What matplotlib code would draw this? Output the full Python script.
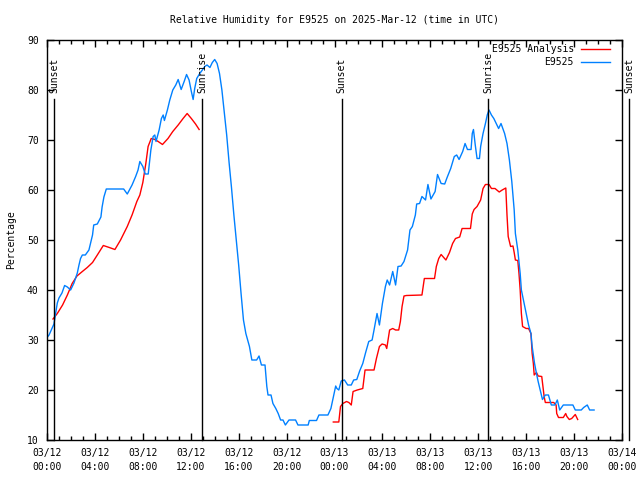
import numpy as np
import matplotlib
matplotlib.use("Agg")
import matplotlib.pyplot as plt
import matplotlib.dates as mdates
from datetime import datetime, timedelta

plt.rcParams['font.family'] = 'DejaVu Sans Mono'
plt.rcParams['font.size'] = 7

start = datetime(2025, 3, 12)

# observed RH (E9525), hours after 03/12 00:00 UTC
obs_hours = [0.0, 0.17, 0.58, 0.86, 1.0, 1.25, 1.47, 1.7, 1.97, 2.25,
             2.53, 2.67, 2.8, 2.95, 3.2, 3.5, 3.6, 3.8, 3.9, 4.2,
             4.5, 4.6, 4.75, 4.95, 6.4, 6.7, 7.1, 7.4, 7.6, 7.75,
             8.0, 8.2, 8.45, 8.67, 8.86, 9.0, 9.1, 9.36, 9.55, 9.7,
             9.8, 10.05, 10.25, 10.5, 10.75, 10.95, 11.2, 11.45, 11.65, 11.86,
             12.05, 12.2, 12.33, 12.5, 12.75, 12.97, 13.17, 13.36, 13.6, 13.8,
             14.0, 14.2, 14.4, 14.6, 14.8, 15.0, 15.2, 15.4, 15.6, 15.8,
             16.0, 16.2, 16.4, 16.6, 16.9, 17.1, 17.5, 17.7, 17.9, 18.2,
             18.35, 18.45, 18.7, 18.86, 19.1, 19.3, 19.5, 19.7, 19.9, 20.2,
             20.75, 20.95, 21.8, 21.9, 22.5, 22.7, 23.45, 23.7, 23.9, 24.1,
             24.2, 24.36, 24.56, 24.83, 25.1, 25.4, 25.6, 25.86, 26.1, 26.36,
             26.6, 26.86, 27.14, 27.3, 27.55, 27.75, 28.0, 28.25, 28.4, 28.6,
             28.86, 29.1, 29.3, 29.56, 29.8, 30.1, 30.3, 30.5, 30.75, 30.86,
             31.1, 31.3, 31.6, 31.8, 32.05, 32.4, 32.6, 32.9, 33.2, 33.4,
             33.7, 34.0, 34.2, 34.4, 34.7, 34.9, 35.1, 35.4, 35.5, 35.6,
             35.75, 35.9, 36.1, 36.2, 36.4, 36.6, 36.75, 36.9, 37.1, 37.3,
             37.5, 37.7, 37.9, 38.2, 38.4, 38.6, 38.8, 39.0, 39.1, 39.3,
             39.5, 39.6, 39.83, 40.0, 40.2, 40.4, 40.5, 40.7, 40.86, 41.0,
             41.2, 41.36, 41.6, 41.86, 42.1, 42.4, 42.6, 42.8, 43.1, 43.9,
             44.1, 44.6, 44.8, 45.1, 45.3, 45.67]
obs_rh = [30.5, 31, 33.2, 37.4, 38.4, 39.4, 40.9, 40.6, 40, 41.4,
          43.4, 45, 46.3, 47, 47, 48, 49, 51, 53, 53.2,
          54.6, 56.6, 58.6, 60.2, 60.2, 59.2, 61, 62.7, 64, 65.7,
          64.7, 63.2, 63.2, 68, 70.7, 71, 69.7, 72, 74.3, 75,
          73.9, 76, 78, 80, 81, 82.1, 80.1, 81.7, 83.1, 82,
          79.7, 78.1, 80.3, 82.3, 83.3, 84, 84.7, 85, 84.5, 85.5,
          86.1, 85.3, 83.3, 80, 75.5, 71, 65.5, 60.5, 55, 50,
          45, 39.3, 34, 31.3, 28.7, 26, 26, 26.8, 25, 25,
          20.7, 19, 19, 17.3, 16.3, 15.3, 14, 14, 13, 14,
          14, 13, 13, 13.9, 13.9, 15, 15, 16.3, 18.5, 20.8,
          20.3, 20, 21.8, 22, 21, 21, 22, 22.1, 23.8, 25.3,
          27.5, 29.7, 30, 32, 35.3, 33, 37.3, 40.7, 42, 41,
          43.7, 41, 44.7, 44.8, 45.7, 48, 52, 52.7, 55, 57.2,
          57.3, 58.7, 58, 61.1, 58.2, 59.7, 63.1, 61.3, 61.2, 62.5,
          64.3, 66.7, 67, 66.1, 67.7, 69.3, 68.1, 68.1, 71.3, 72.1,
          69, 66.3, 66.3, 68.7, 71.3, 73.3, 75, 76, 75, 74.3,
          73.3, 72.3, 73.3, 71.3, 69.3, 66, 61.7, 56, 51.3, 48,
          43.3, 40, 37.3, 35.3, 33, 31.3, 28.7, 25.3, 23.3, 21.7,
          19.7, 18.1, 19, 19, 17, 17, 18, 16, 17, 17,
          16, 16, 16.5, 17, 16, 16]

# analysis RH (E9525 Analysis); nan marks the gap in the record
ana_hours = [0.5, 0.86, 1.3, 1.7, 2.1, 2.5, 2.95, 3.36, 3.8, 4.2,
             4.7, 5.2, 5.67, 6.14, 6.7, 7.1, 7.5, 7.75, 8.0, 8.25,
             8.44, 8.7, 9.0, 9.28, 9.64, 10.1, 10.5, 10.95, 11.36, 11.7,
             12.05, 12.4, 12.7, 18.0,
             23.9, 24.36, 24.5, 24.7, 25.0, 25.2, 25.4, 25.55, 25.9, 26.36,
             26.55, 27.3, 27.5, 27.75, 27.97, 28.25, 28.36, 28.6, 28.86, 29.1,
             29.36, 29.5, 29.64, 29.8, 30.0, 31.3, 31.5, 32.35, 32.5, 32.7,
             32.9, 33.3, 33.6, 33.86, 34.1, 34.45, 34.65, 35.35, 35.5, 35.65,
             35.9, 36.2, 36.4, 36.6, 36.9, 37.1, 37.4, 37.75, 38.0, 38.3,
             38.4, 38.5, 38.7, 38.9, 39.0, 39.1, 39.3, 39.4, 39.5, 39.6,
             39.7, 40.0, 40.2, 40.4, 40.5, 40.6, 40.67, 40.86, 41.0, 41.3,
             41.4, 41.5, 41.6, 42.3, 42.5, 42.55, 42.7, 43.1, 43.3, 43.4,
             43.6, 43.8, 44.1, 44.3]
ana_rh = [34.2, 35.3, 37, 39, 41.3, 42.8, 43.7, 44.5, 45.5, 47,
          48.9, 48.5, 48.1, 50, 52.7, 55, 57.7, 59, 61.5, 65.3,
          68.7, 70.3, 70.1, 69.7, 69.1, 70.3, 71.7, 73, 74.3, 75.3,
          74.3, 73.2, 72.1, np.nan,
          13.6, 13.6, 16.7, 17.3, 17.7, 17.5, 17, 19.7, 20, 20.3,
          24, 24, 26.3, 28.7, 29.2, 29, 28.3, 32, 32.3, 32,
          32, 33.7, 36.7, 38.8, 38.9, 39, 42.3, 42.3, 44.7, 46.3,
          47.1, 46, 47.5, 49.3, 50.3, 50.6, 52.3, 52.3, 55.2, 56.1,
          56.7, 58, 60.3, 61.1, 61.1, 60.3, 60.3, 59.6, 60, 60.4,
          55, 50.7, 48.7, 48.8, 47.5, 46, 45.9, 43.3, 40, 35.3,
          32.7, 32.3, 32.3, 31.3, 27.3, 25.3, 23, 23.5, 22.8, 22.7,
          20.7, 18.7, 17.5, 17.5, 17, 15.3, 14.5, 14.5, 15.3, 14.7,
          14.1, 14.3, 15.1, 14.1]

sun_hours = [0.62, 12.95, 24.6, 36.85, 48.58]
sun_labels = ['Sunset', 'Sunrise', 'Sunset', 'Sunrise', 'Sunset']

obs_t = [start + timedelta(hours=h) for h in obs_hours]
ana_t = [start + timedelta(hours=h) for h in ana_hours]
sun_t = [start + timedelta(hours=h) for h in sun_hours]

fig = plt.figure(figsize=(6.4, 4.8), dpi=100)
ax = fig.add_axes([47 / 640, 40 / 480, 575 / 640, 400 / 480])

ax.plot(ana_t, ana_rh, color='#ff0000', lw=1, label='E9525 Analysis')
ax.plot(obs_t, obs_rh, color='#0080ff', lw=1, label='E9525')

for t, lab in zip(sun_t, sun_labels):
    ax.plot([t, t], [10, 78.2], color='black', lw=1, clip_on=False)
    ax.text(t, 79.4, lab, rotation=90, ha='center', va='bottom', clip_on=False)

ax.set_xlim(start, start + timedelta(hours=48))
ax.set_ylim(10, 90)
ax.set_yticks(np.arange(10, 91, 10))
ax.xaxis.set_major_locator(mdates.HourLocator(byhour=range(0, 24, 4)))
ax.xaxis.set_minor_locator(mdates.HourLocator())
ax.xaxis.set_major_formatter(mdates.DateFormatter('%m/%d\n%H:%M'))
for lbl in ax.get_xticklabels():
    lbl.set_linespacing(1.45)

ax.tick_params(which='both', direction='in', top=True, right=True, width=1)
ax.tick_params(which='major', length=5)
ax.tick_params(which='minor', length=3)
ax.tick_params(axis='x', which='major', pad=6)
ax.tick_params(axis='y', which='major', pad=6)
for sp in ax.spines.values():
    sp.set_linewidth(1)

ax.set_ylabel('Percentage', fontsize=7, labelpad=8)
ax.set_title('Relative Humidity for E9525 on 2025-Mar-12 (time in UTC)',
             fontsize=7, pad=12)

ax.legend(loc='upper right', bbox_to_anchor=(0.979, 0.99), markerfirst=False,
          frameon=False, borderpad=0, borderaxespad=0, handlelength=3.0,
          handletextpad=0.7, labelspacing=0.35, fontsize=7)

fig.savefig('out.png', dpi=100)
